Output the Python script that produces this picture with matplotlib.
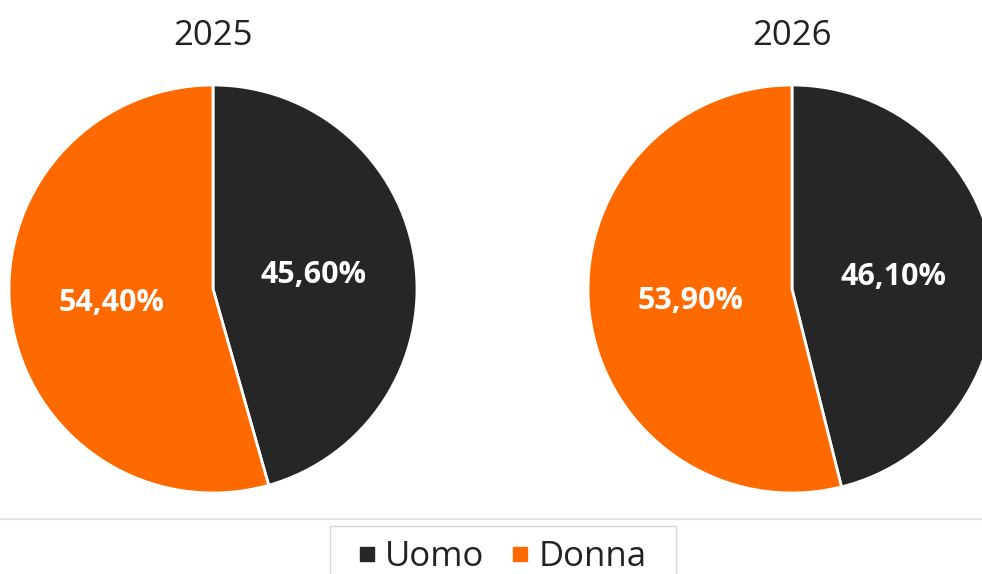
import numpy as np
import matplotlib.pyplot as plt
from matplotlib.lines import Line2D
from matplotlib.patches import Rectangle

plt.rcParams['font.family'] = ['Open Sans', 'DejaVu Sans']

labels = ['Uomo', 'Donna']
years = ['2025', '2026']
shares = [[45.6, 54.4], [46.1, 53.9]]
pct_text = [['45,60%', '54,40%'], ['46,10%', '53,90%']]
colors = ['#262626', '#FF6A00']

W, H = 982, 574
fig = plt.figure(figsize=(W / 100, H / 100), dpi=100)

# pie centers and radius in pixels
centers = [(213, 289), (792, 289)]
r = 204

for (cx, cy), year, vals, txt in zip(centers, years, shares, pct_text):
    ax = fig.add_axes([(cx - r) / W, (H - cy - r) / H, 2 * r / W, 2 * r / H])
    ax.pie(vals, colors=colors, startangle=90, counterclock=False,
           wedgeprops=dict(edgecolor='white', linewidth=2))
    # labels by hand so the numbers use a decimal comma
    start = 90
    for v, t in zip(vals, txt):
        mid = start - v / 100 * 360 / 2
        start -= v / 100 * 360
        ax.text(0.5 * np.cos(np.radians(mid)), 0.5 * np.sin(np.radians(mid)), t,
                color='white', fontsize=22, fontweight='bold',
                ha='center', va='center')
    ax.set_xlim(-1, 1)
    ax.set_ylim(-1, 1)
    ax.set_aspect('equal')
    ax.axis('off')
    fig.text(cx / W, (H - 45) / H, year, ha='center', va='baseline',
             fontsize=25, color='#222222')

# separator line above legend
fig.add_artist(Line2D([0, 1], [(H - 519) / H] * 2, transform=fig.transFigure,
                      color='#e3e3e3', linewidth=1.5))

handles = [Line2D([], [], marker='s', linestyle='none', color=c, markersize=10)
           for c in colors]
leg = fig.legend(handles, labels, loc='upper center',
                 bbox_to_anchor=(503 / W, (H - 526) / H), ncol=2,
                 frameon=False, fontsize=25,
                 handlelength=0.45, handletextpad=0.3, columnspacing=0.8,
                 borderpad=0.4, borderaxespad=0)
for t in leg.get_texts():
    t.set_color('#222222')

# legend box, runs off the bottom edge
fig.add_artist(Rectangle((330 / W, -0.05), 346 / W, (H - 526) / H + 0.05,
                         transform=fig.transFigure, fill=False,
                         edgecolor='#d9d9d9', linewidth=1))

fig.savefig('out.png', dpi=100)
